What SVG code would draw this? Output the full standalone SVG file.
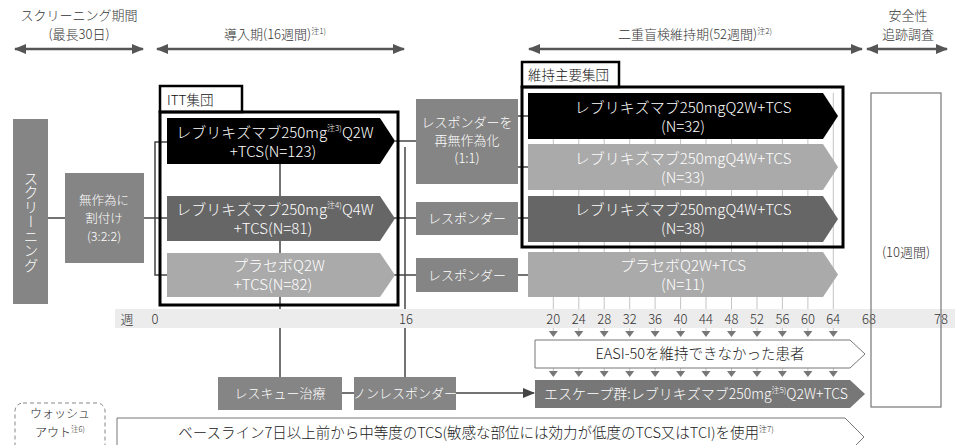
<svg xmlns="http://www.w3.org/2000/svg" width="955" height="445" viewBox="0 0 955 445">
<style>
text{font-family:"Noto Sans CJK JP","Noto Sans",sans-serif;font-weight:300;}
.hd{font-size:13px;fill:#333;text-anchor:middle;}
.wt{fill:#fff;text-anchor:middle;}
.dk{fill:#222;text-anchor:middle;}
.al{font-size:15px;}
.bl{font-size:13px;}
.ln{stroke:#444;stroke-width:1.5;fill:none;}
.gb{fill:#858585;}
.grid{stroke:#c4c4c4;stroke-width:1;}
.ha{stroke:#555;stroke-width:2.5;fill:none;marker-start:url(#ah);marker-end:url(#ah);}
.frame{fill:none;stroke:#000;stroke-width:3;}
.lab{fill:#fff;stroke:#000;stroke-width:2.5;}
</style>
<defs>
<marker id="ah" viewBox="0 0 12 10" refX="11" refY="5" markerWidth="12" markerHeight="10" markerUnits="userSpaceOnUse" orient="auto-start-reverse"><path d="M0,0 L12,5 L0,10 z" fill="#555"/></marker>
<marker id="ah2" viewBox="0 0 12 10" refX="11" refY="5" markerWidth="12" markerHeight="10" markerUnits="userSpaceOnUse" orient="auto"><path d="M0,0 L12,5 L0,10 z" fill="#444"/></marker>
<path id="tri" d="M-4.5,0 L4.5,0 L0,6 z" fill="#777"/>
</defs>

<g id="headers">
<text class="hd" x="79" y="20">スクリーニング期間</text>
<text class="hd" x="79" y="39">(最長30日)</text>
<line class="ha" x1="15" y1="49" x2="143" y2="49"/>
<text class="hd" x="275" y="39">導入期(16週間)<tspan font-size="8" dy="-5">注1)</tspan></text>
<line class="ha" x1="157" y1="49" x2="404" y2="49"/>
<text class="hd" x="695" y="39">二重盲検維持期(52週間)<tspan font-size="8" dy="-5">注2)</tspan></text>
<line class="ha" x1="529" y1="49" x2="862" y2="49"/>
<text class="hd" x="908" y="20">安全性</text>
<text class="hd" x="908" y="39">追跡調査</text>
<line class="ha" x1="867" y1="49" x2="947" y2="49"/>
</g>

<g id="connectors">
<line class="ln" x1="48" y1="218" x2="65" y2="218"/>
<polyline class="ln" points="144,218 167,218"/>
<polyline class="ln" points="167,142 155,142 155,275 167,275"/>
<line class="ln" x1="280" y1="164" x2="280" y2="377"/>
<line class="ln" x1="405" y1="147" x2="405" y2="377"/>
<line class="ln" x1="395" y1="141" x2="416" y2="141"/>
<line class="ln" x1="390" y1="218" x2="416" y2="218"/>
<line class="ln" x1="390" y1="275" x2="416" y2="275"/>
<line class="ln" x1="518" y1="116" x2="530" y2="116"/>
<line class="ln" x1="518" y1="167" x2="530" y2="167"/>
<line class="ln" x1="518" y1="218" x2="530" y2="218"/>
<line class="ln" x1="518" y1="275" x2="530" y2="275"/>
<line class="ln" x1="342" y1="393" x2="354" y2="393"/>
<line class="ln" x1="456" y1="393" x2="534" y2="393" marker-end="url(#ah2)"/>
<g class="grid">
<line x1="553.3" y1="93" x2="553.3" y2="309"/>
<line x1="578.8" y1="93" x2="578.8" y2="309"/>
<line x1="604.2" y1="93" x2="604.2" y2="309"/>
<line x1="629.7" y1="93" x2="629.7" y2="309"/>
<line x1="655.1" y1="93" x2="655.1" y2="309"/>
<line x1="680.6" y1="93" x2="680.6" y2="309"/>
<line x1="706" y1="93" x2="706" y2="309"/>
<line x1="731.5" y1="93" x2="731.5" y2="309"/>
<line x1="757" y1="93" x2="757" y2="309"/>
<line x1="782.4" y1="93" x2="782.4" y2="309"/>
<line x1="807.9" y1="93" x2="807.9" y2="309"/>
<line x1="833.3" y1="93" x2="833.3" y2="309"/>
</g>
</g>

<g id="screening">
<rect class="gb" x="13" y="119" width="35" height="185"/>
<text x="31" y="171" font-size="14.5" fill="#fff" style="writing-mode:vertical-rl" text-anchor="start">スクリーニング</text>
</g>

<g id="randomize">
<rect class="gb" x="65" y="173" width="79" height="90"/>
<text class="wt" font-size="12.5" x="104" y="205">無作為に</text>
<text class="wt" font-size="12.5" x="104" y="223">割付け</text>
<text class="wt" font-size="12.5" x="104" y="241">(3:2:2)</text>
</g>

<g id="itt">
<rect class="lab" x="160" y="86" width="82" height="26"/>
<text x="167" y="105" font-size="13.5" fill="#111" font-weight="400">ITT集団</text>
<path d="M167,118 H380 L395,141 L380,164 H167 Z" fill="#000"/>
<text class="wt al" x="275" y="138">レブリキズマブ250mg<tspan font-size="8" dy="-7">注3)</tspan><tspan dy="7">Q2W</tspan></text>
<text class="wt al" x="273" y="157">+TCS(N=123)</text>
<path d="M167,196 H380 L395,218.5 L380,241 H167 Z" fill="#666"/>
<text class="wt al" x="275" y="215">レブリキズマブ250mg<tspan font-size="8" dy="-7">注4)</tspan><tspan dy="7">Q4W</tspan></text>
<text class="wt al" x="273" y="234">+TCS(N=81)</text>
<path d="M167,253 H380 L395,275 L380,297 H167 Z" fill="#aaa"/>
<text class="wt al" x="279" y="271">プラセボQ2W</text>
<text class="wt al" x="273" y="290">+TCS(N=82)</text>
<rect class="frame" x="160" y="112" width="238" height="193"/>
</g>

<g id="responders">
<rect class="gb" x="416" y="99" width="102" height="85"/>
<text class="wt bl" x="467" y="127">レスポンダーを</text>
<text class="wt bl" x="467" y="145">再無作為化</text>
<text class="wt bl" x="467" y="163">(1:1)</text>
<rect class="gb" x="416" y="202" width="102" height="33"/>
<text class="wt bl" x="467" y="223">レスポンダー</text>
<rect class="gb" x="416" y="258" width="102" height="34"/>
<text class="wt bl" x="467" y="280">レスポンダー</text>
</g>

<g id="maintenance">
<rect class="lab" x="522" y="62" width="97" height="25"/>
<text x="528" y="80" font-size="13.5" fill="#111" font-weight="400">維持主要集団</text>
<path d="M528,93 H823 L838,116 L823,139 H528 Z" fill="#000"/>
<text class="wt al" x="683" y="113">レブリキズマブ250mgQ2W+TCS</text>
<text class="wt al" x="683" y="132">(N=32)</text>
<path d="M528,144 H823 L838,167 L823,190 H528 Z" fill="#aaa"/>
<text class="wt al" x="683" y="164">レブリキズマブ250mgQ4W+TCS</text>
<text class="wt al" x="683" y="183">(N=33)</text>
<path d="M528,196 H823 L838,219 L823,242 H528 Z" fill="#666"/>
<text class="wt al" x="683" y="215">レブリキズマブ250mgQ4W+TCS</text>
<text class="wt al" x="683" y="234">(N=38)</text>
<rect class="frame" x="522" y="87" width="321" height="160"/>
</g>

<g id="placebo-maint">
<path d="M528,252 H823 L838,274.5 L823,297 H528 Z" fill="#aaa"/>
<text class="wt al" x="683" y="271">プラセボQ2W+TCS</text>
<text class="wt al" x="683" y="290">(N=11)</text>
</g>

<g id="safety">
<rect x="871" y="93" width="70" height="314" fill="#fff"/>
<text class="hd" x="906" y="257">(10週間)</text>
</g>

<g id="timeline">
<rect x="115" y="309" width="840" height="19" fill="#ececec"/>
<g class="hd">
<text x="127" y="324">週</text>
<text x="155" y="324">0</text>
<text x="406" y="324">16</text>
<text x="553.3" y="324">20</text>
<text x="578.8" y="324">24</text>
<text x="604.2" y="324">28</text>
<text x="629.7" y="324">32</text>
<text x="655.1" y="324">36</text>
<text x="680.6" y="324">40</text>
<text x="706" y="324">44</text>
<text x="731.5" y="324">48</text>
<text x="757" y="324">52</text>
<text x="782.4" y="324">56</text>
<text x="807.9" y="324">60</text>
<text x="833.3" y="324">64</text>
<text x="869" y="324">68</text>
<text x="941" y="324">78</text>
</g>
<rect x="871" y="93" width="70" height="314" fill="none" stroke="#777" stroke-width="1.2"/>
</g>

<g id="week-arrows">
<g class="grid" stroke="#888">
<line x1="553.3" y1="328" x2="553.3" y2="332"/><line x1="578.8" y1="328" x2="578.8" y2="332"/><line x1="604.2" y1="328" x2="604.2" y2="332"/><line x1="629.7" y1="328" x2="629.7" y2="332"/><line x1="655.1" y1="328" x2="655.1" y2="332"/><line x1="680.6" y1="328" x2="680.6" y2="332"/><line x1="706" y1="328" x2="706" y2="332"/><line x1="731.5" y1="328" x2="731.5" y2="332"/><line x1="757" y1="328" x2="757" y2="332"/><line x1="782.4" y1="328" x2="782.4" y2="332"/><line x1="807.9" y1="328" x2="807.9" y2="332"/><line x1="833.3" y1="328" x2="833.3" y2="332"/>
<line x1="553.3" y1="368" x2="553.3" y2="372"/><line x1="578.8" y1="368" x2="578.8" y2="372"/><line x1="604.2" y1="368" x2="604.2" y2="372"/><line x1="629.7" y1="368" x2="629.7" y2="372"/><line x1="655.1" y1="368" x2="655.1" y2="372"/><line x1="680.6" y1="368" x2="680.6" y2="372"/><line x1="706" y1="368" x2="706" y2="372"/><line x1="731.5" y1="368" x2="731.5" y2="372"/><line x1="757" y1="368" x2="757" y2="372"/><line x1="782.4" y1="368" x2="782.4" y2="372"/><line x1="807.9" y1="368" x2="807.9" y2="372"/><line x1="833.3" y1="368" x2="833.3" y2="372"/>
</g>
<use href="#tri" x="553.3" y="331"/><use href="#tri" x="578.8" y="331"/><use href="#tri" x="604.2" y="331"/><use href="#tri" x="629.7" y="331"/><use href="#tri" x="655.1" y="331"/><use href="#tri" x="680.6" y="331"/><use href="#tri" x="706" y="331"/><use href="#tri" x="731.5" y="331"/><use href="#tri" x="757" y="331"/><use href="#tri" x="782.4" y="331"/><use href="#tri" x="807.9" y="331"/><use href="#tri" x="833.3" y="331"/>
<use href="#tri" x="553.3" y="371"/><use href="#tri" x="578.8" y="371"/><use href="#tri" x="604.2" y="371"/><use href="#tri" x="629.7" y="371"/><use href="#tri" x="655.1" y="371"/><use href="#tri" x="680.6" y="371"/><use href="#tri" x="706" y="371"/><use href="#tri" x="731.5" y="371"/><use href="#tri" x="757" y="371"/><use href="#tri" x="782.4" y="371"/><use href="#tri" x="807.9" y="371"/><use href="#tri" x="833.3" y="371"/>
</g>

<g id="rescue">
<rect class="gb" x="218" y="377" width="124" height="33"/>
<text class="wt bl" x="280" y="398">レスキュー治療</text>
</g>

<g id="nonresponder">
<rect class="gb" x="354" y="377" width="102" height="33"/>
<text class="wt bl" x="405" y="398">ノンレスポンダー</text>
</g>

<g id="easi">
<path d="M535,340 H850 L865,354 L850,368 H535 Z" fill="#fff" stroke="#777" stroke-width="1"/>
<text class="dk" x="700" y="359" font-size="14.5">EASI-50を維持できなかった患者</text>
</g>

<g id="escape">
<path d="M535,380 H850 L865,394 L850,408 H535 Z" fill="#777"/>
<text class="wt" x="696" y="399" font-size="14">エスケープ群:レブリキズマブ250mg<tspan font-size="8" dy="-6">注5)</tspan><tspan dy="6">Q2W+TCS</tspan></text>
</g>

<g id="washout">
<rect x="15" y="403" width="90" height="60" rx="8" fill="none" stroke="#888" stroke-width="1" stroke-dasharray="4,3"/>
<text class="dk" x="60" y="418" font-size="12" fill="#333">ウォッシュ</text>
<text class="dk" x="60" y="437" font-size="12" fill="#333">アウト<tspan font-size="7.5" dy="-5">注6)</tspan></text>
</g>

<g id="baseline">
<path d="M117,418 H845 L864,437 L845,456 H117 Z" fill="#fff" stroke="#777" stroke-width="1"/>
<text class="dk" x="476" y="438" font-size="14.5">ベースライン7日以上前から中等度のTCS(敏感な部位には効力が低度のTCS又はTCI)を使用<tspan font-size="8" dy="-6">注7)</tspan></text>
</g>
</svg>
